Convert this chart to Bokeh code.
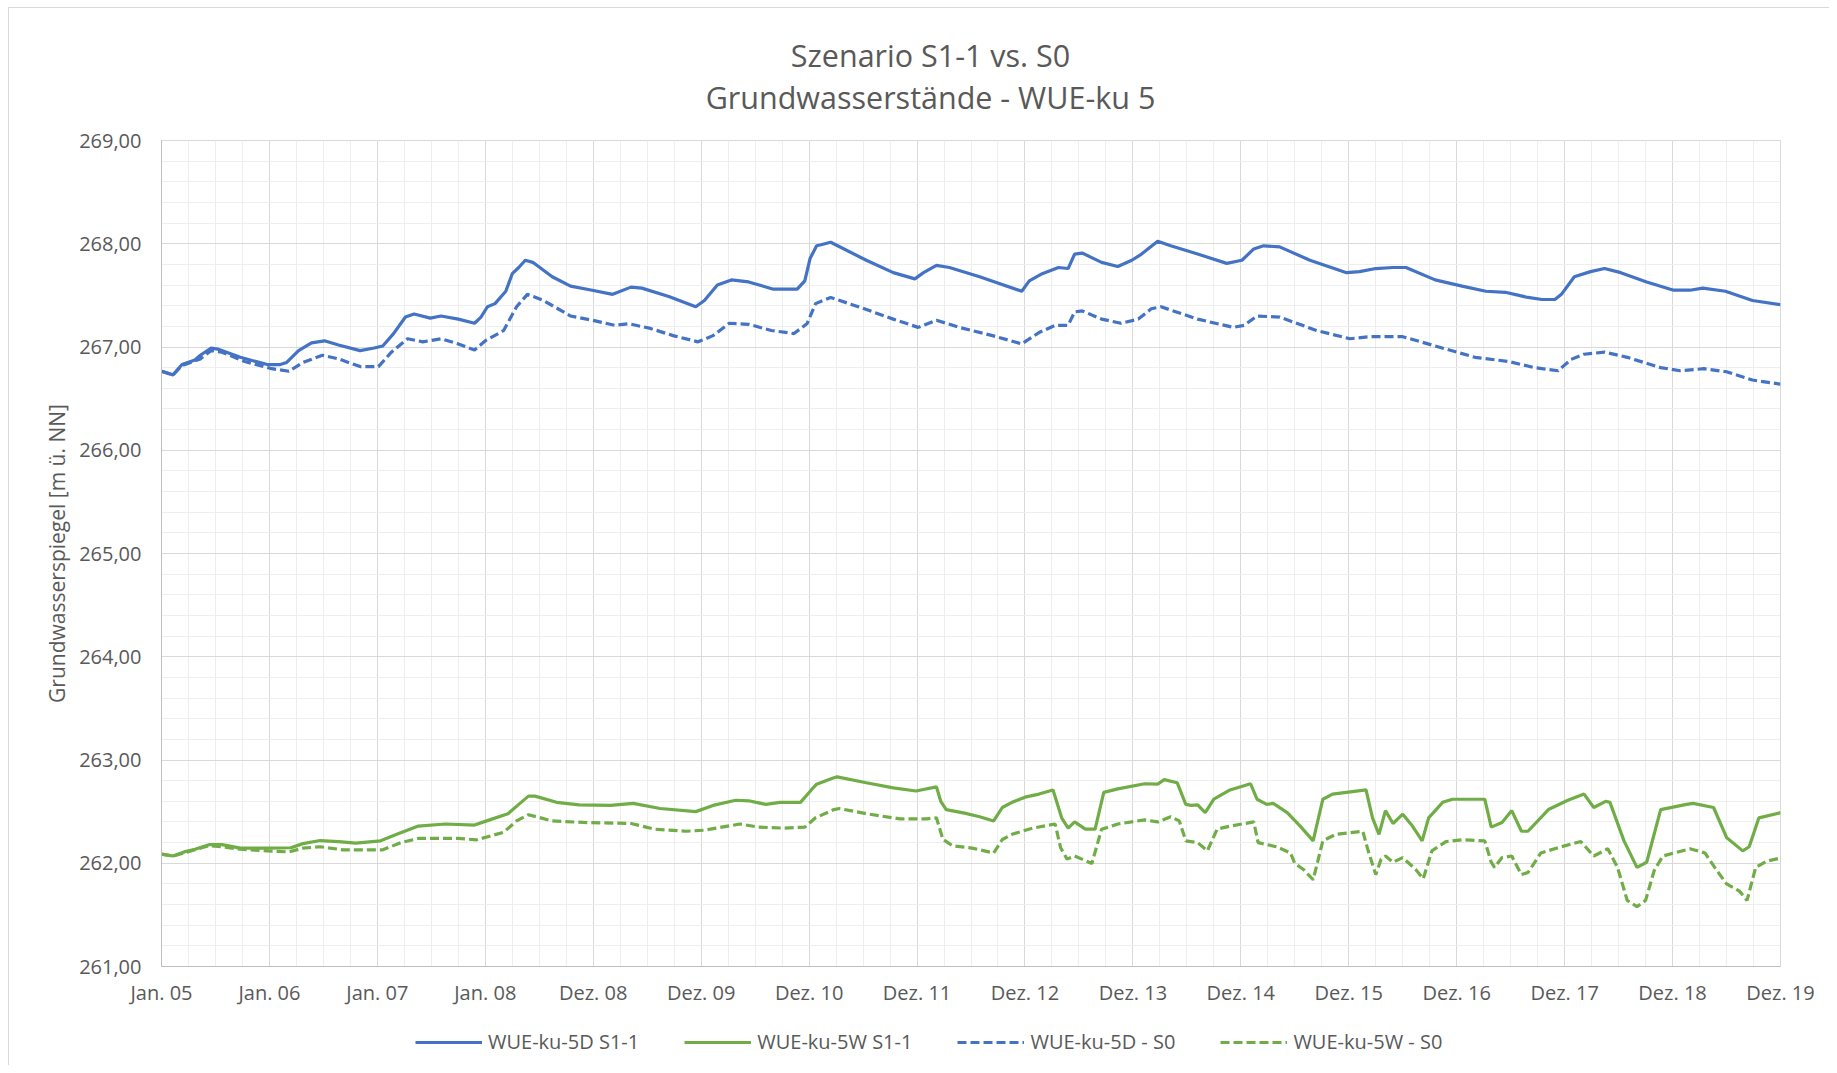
from bokeh.plotting import figure
from bokeh.layouts import column
from bokeh.models import FixedTicker, Legend, LegendItem, Label, Range1d, InlineStyleSheet
from bokeh.embed import file_html
from bokeh.resources import INLINE

# ---------------- data ----------------
title_lines = ["Szenario S1-1 vs. S0", "Grundwasserstände - WUE-ku 5"]
y_axis_label = "Grundwasserspiegel [m ü. NN]"
x_ticks = list(range(16))  # years since Jan. 05
x_tick_labels = ["Jan. 05", "Jan. 06", "Jan. 07", "Jan. 08", "Dez. 08", "Dez. 09",
                 "Dez. 10", "Dez. 11", "Dez. 12", "Dez. 13", "Dez. 14", "Dez. 15",
                 "Dez. 16", "Dez. 17", "Dez. 18", "Dez. 19"]
y_ticks = [261, 262, 263, 264, 265, 266, 267, 268, 269]
y_tick_labels = ["261,00", "262,00", "263,00", "264,00", "265,00", "266,00",
                 "267,00", "268,00", "269,00"]
series_names = ["WUE-ku-5D S1-1", "WUE-ku-5W S1-1", "WUE-ku-5D - S0", "WUE-ku-5W - S0"]

t_5d_s11 = [0, .107, .19, .31, .36, .46, .52, .73, .98, 1.10, 1.16, 1.27, 1.39, 1.51, 1.64,
            1.84, 1.97, 2.05, 2.15, 2.26, 2.34, 2.49, 2.59, 2.75, 2.90, 2.96, 3.02, 3.09,
            3.19, 3.25, 3.31, 3.37, 3.44, 3.62, 3.79, 3.99, 4.18, 4.35, 4.45, 4.70, 4.95,
            5.03, 5.15, 5.28, 5.44, 5.67, 5.77, 5.89, 5.96, 6.01, 6.07, 6.11, 6.20, 6.53,
            6.78, 6.98, 7.06, 7.18, 7.30, 7.58, 7.97, 8.04, 8.16, 8.31, 8.40, 8.46, 8.53,
            8.71, 8.86, 8.99, 9.08, 9.23, 9.35, 9.60, 9.87, 10.01, 10.12, 10.21, 10.36,
            10.64, 10.98, 11.10, 11.25, 11.41, 11.53, 11.80, 12.05, 12.27, 12.45, 12.66,
            12.79, 12.91, 12.97, 13.09, 13.24, 13.37, 13.52, 13.76, 14.01, 14.16, 14.28,
            14.49, 14.74, 15.0]
v_5d_s11 = [266.765, 266.73, 266.83, 266.875, 266.92, 266.99, 266.98, 266.90, 266.83, 266.83,
            266.85, 266.965, 267.04, 267.06, 267.02, 266.965, 266.99, 267.01, 267.13, 267.29,
            267.32, 267.28, 267.30, 267.27, 267.23, 267.29, 267.39, 267.42, 267.54, 267.71,
            267.77, 267.84, 267.82, 267.68, 267.59, 267.55, 267.51, 267.58, 267.57, 267.49,
            267.39, 267.45, 267.60, 267.65, 267.63, 267.56, 267.56, 267.56, 267.64, 267.86,
            267.98, 267.99, 268.015, 267.84, 267.72, 267.66, 267.72, 267.79, 267.77, 267.68,
            267.54, 267.64, 267.71, 267.77, 267.76, 267.90, 267.91, 267.82, 267.78, 267.84,
            267.90, 268.025, 267.98, 267.90, 267.81, 267.84, 267.95, 267.98, 267.97, 267.84,
            267.72, 267.73, 267.76, 267.77, 267.77, 267.65, 267.59, 267.54, 267.53, 267.48,
            267.46, 267.46, 267.51, 267.68, 267.73, 267.76, 267.72, 267.63, 267.55, 267.55,
            267.57, 267.54, 267.45, 267.41]

t_5d_s0 = [0, .107, .19, .36, .46, .56, .77, 1.02, 1.18, 1.31, 1.49, 1.64, 1.84, 2.01, 2.13,
           2.28, 2.42, 2.59, 2.75, 2.90, 3.00, 3.17, 3.29, 3.39, 3.54, 3.79, 3.99, 4.20,
           4.33, 4.53, 4.74, 4.97, 5.11, 5.26, 5.44, 5.65, 5.86, 5.98, 6.06, 6.20, 6.47,
           6.78, 7.01, 7.18, 7.39, 7.70, 7.97, 8.13, 8.28, 8.40, 8.46, 8.53, 8.71, 8.89,
           9.05, 9.17, 9.26, 9.60, 9.93, 10.03, 10.15, 10.36, 10.70, 11.01, 11.19, 11.50,
           11.80, 12.17, 12.48, 12.72, 12.94, 13.06, 13.18, 13.37, 13.58, 13.89, 14.07,
           14.29, 14.50, 14.74, 15.0]
v_5d_s0 = [266.765, 266.73, 266.82, 266.885, 266.965, 266.95, 266.86, 266.79, 266.765, 266.85,
           266.92, 266.885, 266.81, 266.81, 266.95, 267.08, 267.05, 267.08, 267.03, 266.97,
           267.06, 267.16, 267.39, 267.51, 267.45, 267.30, 267.26, 267.21, 267.225, 267.18,
           267.11, 267.05, 267.11, 267.23, 267.22, 267.16, 267.13, 267.225, 267.42, 267.48,
           267.385, 267.27, 267.19, 267.26, 267.19, 267.11, 267.03, 267.14, 267.21, 267.21,
           267.34, 267.35, 267.27, 267.23, 267.27, 267.37, 267.39, 267.27, 267.19, 267.21,
           267.30, 267.29, 267.16, 267.08, 267.10, 267.10, 267.01, 266.90, 266.86, 266.80,
           266.77, 266.88, 266.93, 266.95, 266.90, 266.80, 266.77, 266.79, 266.76, 266.68,
           266.64]

t_5w_s11 = [0, .107, .21, .31, .44, .56, .73, .98, 1.20, 1.31, 1.47, 1.64, 1.80, 2.03, 2.18,
            2.38, 2.63, 2.90, 3.04, 3.21, 3.31, 3.40, 3.46, 3.66, 3.87, 4.16, 4.37, 4.62,
            4.95, 5.11, 5.32, 5.44, 5.60, 5.73, 5.92, 6.02, 6.07, 6.21, 6.26, 6.53, 6.78,
            6.99, 7.18, 7.22, 7.27, 7.44, 7.58, 7.71, 7.79, 7.88, 8.00, 8.13, 8.26, 8.34,
            8.40, 8.46, 8.56, 8.65, 8.73, 8.86, 9.11, 9.23, 9.29, 9.41, 9.49, 9.54, 9.60,
            9.67, 9.75, 9.90, 10.09, 10.15, 10.24, 10.30, 10.43, 10.55, 10.67, 10.76, 10.85,
            11.16, 11.22, 11.28, 11.34, 11.41, 11.50, 11.59, 11.68, 11.74, 11.87, 11.96,
            12.26, 12.32, 12.42, 12.51, 12.60, 12.66, 12.85, 13.03, 13.18, 13.27, 13.38,
            13.42, 13.55, 13.67, 13.76, 13.89, 14.13, 14.19, 14.38, 14.50, 14.65, 14.71,
            14.80, 15.0]
v_5w_s11 = [262.088, 262.07, 262.11, 262.136, 262.18, 262.18, 262.146, 262.146, 262.15,
            262.19, 262.22, 262.21, 262.195, 262.217, 262.28, 262.36, 262.38, 262.37, 262.42,
            262.48, 262.57, 262.65, 262.65, 262.59, 262.565, 262.56, 262.58, 262.53, 262.50,
            262.56, 262.61, 262.605, 262.57, 262.59, 262.59, 262.71, 262.766, 262.82, 262.837,
            262.78, 262.73, 262.70, 262.74, 262.60, 262.52, 262.485, 262.45, 262.41, 262.54,
            262.59, 262.64, 262.67, 262.71, 262.44, 262.34, 262.40, 262.33, 262.33, 262.686,
            262.72, 262.77, 262.766, 262.81, 262.78, 262.57, 262.56, 262.565, 262.49, 262.62,
            262.71, 262.77, 262.62, 262.57, 262.58, 262.49, 262.36, 262.217, 262.62, 262.67,
            262.71, 262.44, 262.28, 262.51, 262.385, 262.475, 262.36, 262.217, 262.44, 262.59,
            262.62, 262.62, 262.35, 262.395, 262.51, 262.31, 262.31, 262.52, 262.61, 262.67,
            262.54, 262.60, 262.59, 262.217, 261.96, 262.01, 262.52, 262.57, 262.58, 262.54,
            262.25, 262.12, 262.16, 262.44, 262.49]

t_5w_s0 = [0, .107, .31, .44, .56, .73, .98, 1.18, 1.31, 1.47, 1.68, 2.05, 2.22, 2.38, 2.75,
           2.92, 3.17, 3.29, 3.40, 3.62, 3.91, 4.35, 4.57, 4.86, 5.03, 5.36, 5.53, 5.77,
           5.96, 6.06, 6.23, 6.28, 6.53, 6.84, 7.09, 7.18, 7.24, 7.33, 7.51, 7.71, 7.79,
           7.88, 8.07, 8.28, 8.33, 8.39, 8.46, 8.62, 8.71, 8.86, 9.11, 9.23, 9.35, 9.43,
           9.49, 9.60, 9.69, 9.78, 9.90, 10.12, 10.16, 10.33, 10.46, 10.50, 10.58, 10.67,
           10.76, 10.88, 11.13, 11.18, 11.25, 11.30, 11.34, 11.41, 11.50, 11.62, 11.69,
           11.77, 11.90, 12.05, 12.26, 12.32, 12.35, 12.42, 12.51, 12.60, 12.66, 12.78,
           12.97, 13.15, 13.27, 13.40, 13.49, 13.58, 13.67, 13.75, 13.83, 13.91, 14.16,
           14.30, 14.39, 14.50, 14.62, 14.69, 14.77, 14.87, 15.0]
v_5w_s0 = [262.088, 262.07, 262.13, 262.17, 262.16, 262.136, 262.12, 262.11, 262.146, 262.16,
           262.13, 262.13, 262.20, 262.24, 262.24, 262.227, 262.30, 262.41, 262.47, 262.41,
           262.395, 262.385, 262.33, 262.31, 262.32, 262.38, 262.35, 262.34, 262.35, 262.44,
           262.52, 262.53, 262.48, 262.43, 262.43, 262.44, 262.23, 262.17, 262.146, 262.10,
           262.23, 262.28, 262.34, 262.38, 262.15, 262.04, 262.07, 261.998, 262.33, 262.38,
           262.42, 262.40, 262.45, 262.41, 262.217, 262.20, 262.12, 262.33, 262.36, 262.40,
           262.20, 262.16, 262.10, 261.998, 261.94, 261.84, 262.217, 262.28, 262.31, 262.12,
           261.89, 262.04, 262.07, 262.01, 262.055, 261.94, 261.85, 262.12, 262.21, 262.227,
           262.217, 262.01, 261.96, 262.055, 262.07, 261.89, 261.91, 262.10, 262.16, 262.21,
           262.07, 262.14, 261.96, 261.64, 261.58, 261.64, 261.93, 262.07, 262.14, 262.10,
           261.96, 261.80, 261.73, 261.64, 261.96, 262.02, 262.05]

# ---------------- styling / layout ----------------
BLUE = "#4472C4"
GREEN = "#70AD47"
TEXT = "#595959"
FONT = "Open Sans"
LW = 3.2
DASH = "9 4"

W = 1829
H_TITLE, H_MAIN, H_LEG = 120, 890, 55
LEFT, RIGHT, TOP = 161, 49, 20
BOTTOM = H_MAIN - TOP - 826


def blank_fig(h):
    # frame spans canvas x from LEFT to W-RIGHT; data units = canvas pixels
    f = figure(width=W, height=h, x_range=Range1d(LEFT, W - RIGHT), y_range=Range1d(h, 0),
               output_backend="svg", toolbar_location=None, title=None,
               x_axis_location=None, y_axis_location=None,
               min_border_left=LEFT, min_border_right=RIGHT,
               min_border_top=0, min_border_bottom=0)
    f.grid.visible = False
    f.outline_line_color = None
    f.background_fill_color = "white"
    f.border_fill_color = "white"
    return f


# ---- title strip ----
tf = blank_fig(H_TITLE)
for txt, y in zip(title_lines, [54, 96]):
    tf.add_layout(Label(x=930, y=y, text=txt, text_align="center",
                        text_baseline="middle", text_font=FONT,
                        text_font_size="30.5px", text_color=TEXT))

# ---- main chart ----
p = figure(width=W, height=H_MAIN, x_range=(0, 15), y_range=(261, 269),
           output_backend="svg", toolbar_location=None, title=None,
           min_border_left=LEFT, min_border_right=RIGHT,
           min_border_top=TOP, min_border_bottom=BOTTOM)
p.background_fill_color = "white"
p.border_fill_color = "white"
p.outline_line_color = "#d9d9d9"

p.xaxis.ticker = FixedTicker(ticks=x_ticks, minor_ticks=[k * 0.25 for k in range(61)])
p.yaxis.ticker = FixedTicker(ticks=y_ticks, minor_ticks=[261 + k * 0.2 for k in range(41)])
p.xaxis.major_label_overrides = {t: l for t, l in zip(x_ticks, x_tick_labels)}
p.yaxis.major_label_overrides = {t: l for t, l in zip(y_ticks, y_tick_labels)}

for ax in (p.xaxis, p.yaxis):
    ax.axis_line_color = "#bfbfbf"
    ax.major_tick_line_color = None
    ax.minor_tick_line_color = None
    ax.major_label_text_font = FONT
    ax.major_label_text_font_size = "20px"
    ax.major_label_text_color = TEXT
p.xaxis.major_label_standoff = 6
p.yaxis.major_label_standoff = 14

p.yaxis.axis_label = y_axis_label
p.yaxis.axis_label_text_font = FONT
p.yaxis.axis_label_text_font_size = "21px"
p.yaxis.axis_label_text_font_style = "normal"
p.yaxis.axis_label_text_color = TEXT
p.yaxis.axis_label_standoff = 5

p.xgrid.grid_line_color = "#d9d9d9"
p.ygrid.grid_line_color = "#d9d9d9"
p.xgrid.minor_grid_line_color = "#eeeeee"
p.ygrid.minor_grid_line_color = "#eeeeee"

styles = [dict(line_color=BLUE, line_width=LW),
          dict(line_color=GREEN, line_width=LW),
          dict(line_color=BLUE, line_width=LW, line_dash=DASH),
          dict(line_color=GREEN, line_width=LW, line_dash=DASH)]
series = [(t_5d_s11, v_5d_s11), (t_5w_s11, v_5w_s11), (t_5d_s0, v_5d_s0), (t_5w_s0, v_5w_s0)]
for (t, v), st in zip(series, styles):
    p.line(t, v, **st)

# ---- legend strip (key renderers carry the same series; they fall outside this strip's range) ----
lf = blank_fig(H_LEG)
key_renderers = [lf.line(t, v, **st) for (t, v), st in zip(series, styles)]
legend = Legend(items=[LegendItem(label=n, renderers=[r]) for n, r in
                       zip(series_names, key_renderers)],
                orientation="horizontal", location=(415 - LEFT, 10),
                glyph_width=67, glyph_height=20, label_height=20,
                label_standoff=6, spacing=45, padding=0, margin=0,
                border_line_color=None, background_fill_alpha=0,
                label_text_font=FONT, label_text_font_size="20px",
                label_text_color=TEXT)
lf.add_layout(legend, "center")

frame_css = InlineStyleSheet(css=(
    ":host{position:relative;}"
    ":host::after{content:'';position:absolute;left:8px;top:7px;right:0;bottom:0;"
    "border-left:1px solid #d9d9d9;border-top:1px solid #d9d9d9;"
    "pointer-events:none;z-index:10;}"))
layout = column(tf, p, lf, spacing=0, stylesheets=[frame_css])
open("out.html", "w").write(file_html(layout, INLINE))
